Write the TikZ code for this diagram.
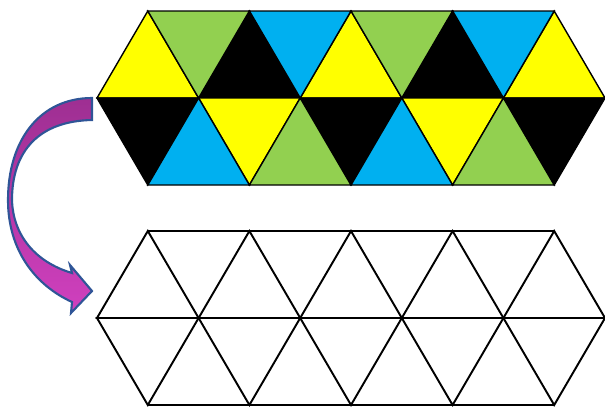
\documentclass[tikz,border=0pt]{standalone}
\usepackage{amsmath,amssymb}
\usepackage{tikz}

\definecolor{tileyellow}{HTML}{FFFF00}
\definecolor{tilegreen}{HTML}{92D050}
\definecolor{tileblue}{HTML}{00B0F0}
\definecolor{arrowtop}{HTML}{9E2F92}
\definecolor{arrowbot}{HTML}{D040BE}
\definecolor{arrowline}{HTML}{2F5597}

\begin{document}
\begin{tikzpicture}[x=0.02cm,y=-0.02cm]
        \useasboundingbox (0,0) rectangle (605,407);
        % coloured strip, upper row
        \foreach \c [count=\k from 0] in {tileyellow,black,tileyellow,black,tileyellow}
            \filldraw[fill=\c, thick] ({97+101.6*\k},98) -- ({97+101.6*(\k+1)},98) -- ({97+101.6*(\k+0.5)},11) -- cycle;
        \foreach \c [count=\k from 0] in {tilegreen,tileblue,tilegreen,tileblue}
            \filldraw[fill=\c, thick] ({147.8+101.6*\k},11) -- ({147.8+101.6*(\k+1)},11) -- ({147.8+101.6*(\k+0.5)},98) -- cycle;
        % coloured strip, lower row
        \foreach \c [count=\k from 0] in {black,tileyellow,black,tileyellow,black}
            \filldraw[fill=\c, thick] ({97+101.6*\k},98) -- ({97+101.6*(\k+1)},98) -- ({97+101.6*(\k+0.5)},185) -- cycle;
        \foreach \c [count=\k from 0] in {tileblue,tilegreen,tileblue,tilegreen}
            \filldraw[fill=\c, thick] ({147.8+101.6*\k},185) -- ({147.8+101.6*(\k+1)},185) -- ({147.8+101.6*(\k+0.5)},98) -- cycle;
        % empty strip
        \foreach \k in {0,...,4} {
            \draw[line width=1.1pt] ({97+101.6*\k},318) -- ({97+101.6*(\k+1)},318) -- ({97+101.6*(\k+0.5)},231) -- cycle;
            \draw[line width=1.1pt] ({97+101.6*\k},318) -- ({97+101.6*(\k+1)},318) -- ({97+101.6*(\k+0.5)},405) -- cycle;
        }
        \draw[line width=1.1pt] (147.8,231) -- (554.2,231);
        \draw[line width=1.1pt] (147.8,405) -- (554.2,405);
        % curved arrow
        \draw[draw=arrowline, line width=1.2pt, top color=arrowtop, bottom color=arrowbot, line join=miter]
            (92,98) .. controls (40,98) and (8,140) .. (8,200)
            .. controls (8,250) and (35,285) .. (72,302)
            -- (71,313) -- (92,291) -- (70,265) -- (72,273)
            .. controls (35,262) and (13,235) .. (12,200)
            .. controls (12,150) and (40,121) .. (92,120) -- cycle;
%        \node at (300,200) {\small };
    \end{tikzpicture}
\end{document}
